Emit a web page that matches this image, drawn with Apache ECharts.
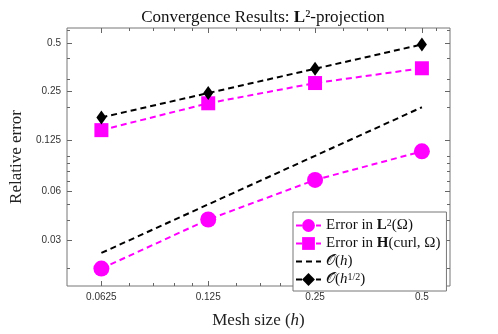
<!DOCTYPE html>
<html>
<head>
<meta charset="utf-8">
<script src="https://cdn.jsdelivr.net/npm/echarts@6/dist/echarts.min.js"></script>
<style>
  html, body { margin: 0; padding: 0; background: #fff; }
  #chart { width: 498px; height: 334px; }
</style>
</head>
<body>
<div id="chart"></div>
<script>
// data
var meshSizes = [0.0625, 0.125, 0.25, 0.5]
var errL2 = [0.0200, 0.0403, 0.0709, 0.1066]
var errHcurl = [0.1443, 0.2117, 0.2826, 0.349]
var refH = [0.025, 0.05, 0.1, 0.2]
var refHalf = [0.173, 0.245, 0.3465, 0.49]

var xTicks = [0.0625, 0.125, 0.25, 0.5]
var xMinorTicks = [0.075, 0.0875, 0.1, 0.1125, 0.15, 0.175, 0.2, 0.225, 0.3, 0.35, 0.4, 0.45, 0.55]
var yTicks = [0.03, 0.06, 0.125, 0.25, 0.5]
var yMinorTicks = [0.02, 0.04, 0.05, 0.07, 0.08, 0.09, 0.1, 0.2, 0.3, 0.4, 0.6]

var seriesNames = ['Error in L²(Ω)', 'Error in H(curl, Ω)', '𝒪(h)', '𝒪(h^{1/2})']
var legendRich = {
  'Error in L²(Ω)': '{n|Error in }{b|L}{s|2}{n|(Ω)}',
  'Error in H(curl, Ω)': '{n|Error in }{b|H}{n|(curl, Ω)}',
  '𝒪(h)': '{n|𝒪(}{i|h}{n|)}',
  '𝒪(h^{1/2})': '{n|𝒪(}{i|h}{s|1/2}{n|)}'
}

function pairs(ys) {
  return meshSizes.map(function (x, i) { return [x, ys[i]] })
}

var serif = 'Liberation Serif'
var xMin = 0.05, xMax = 0.6, yMin = 0.0156, yMax = 0.62

function xAx(pos, ticks, len, labels) {
  return {
    type: 'log', logBase: 2, min: xMin, max: xMax, position: pos,
    axisLine: { show: false },
    splitLine: { show: false },
    axisTick: { show: true, inside: true, length: len, customValues: ticks, lineStyle: { color: '#666', width: 1 } },
    axisLabel: labels ? {
      show: true, customValues: ticks, margin: 6, fontSize: 10, color: '#333', fontFamily: 'Liberation Sans',
      formatter: function (v) { return String(+v.toFixed(4)) }
    } : { show: false }
  }
}
function yAx(pos, ticks, len, labels) {
  return {
    type: 'log', logBase: 2, min: yMin, max: yMax, position: pos,
    axisLine: { show: false },
    splitLine: { show: false },
    axisTick: { show: true, inside: true, length: len, customValues: ticks, lineStyle: { color: '#666', width: 1 } },
    axisLabel: labels ? {
      show: true, customValues: ticks, margin: 6, fontSize: 10, color: '#333', fontFamily: 'Liberation Sans',
      formatter: function (v) { return String(+v.toFixed(4)) }
    } : { show: false }
  }
}

var xMain = xAx('bottom', xTicks, 5, true)
xMain.name = '{n|Mesh size (}{i|h}{n|)}'
xMain.nameLocation = 'middle'
xMain.nameGap = 26
xMain.nameTextStyle = {
  rich: {
    n: { fontFamily: serif, fontSize: 17, color: '#222' },
    i: { fontFamily: serif, fontSize: 17, fontStyle: 'italic', color: '#222' }
  }
}
var yMain = yAx('left', yTicks, 5, true)
yMain.name = 'Relative error'
yMain.nameLocation = 'middle'
yMain.nameGap = 42
yMain.nameTextStyle = { fontFamily: serif, fontSize: 17, color: '#222' }

var chart = echarts.init(document.getElementById('chart'))
chart.setOption({
  animation: false,
  backgroundColor: '#fff',
  title: {
    text: '{n|Convergence Results: }{b|L}{n|²-projection}',
    left: 258, top: 4, textAlign: 'center',
    textStyle: {
      fontWeight: 'normal',
      rich: {
        n: { fontFamily: serif, fontSize: 17, fontWeight: 'normal', color: '#111' },
        b: { fontFamily: serif, fontSize: 17, fontWeight: 'bold', color: '#111' }
      }
    }
  },
  grid: { left: 64, right: 48, top: 28, bottom: 38, show: true, borderColor: '#777', borderWidth: 1, backgroundColor: 'transparent' },
  legend: {
    data: [
      { name: seriesNames[0] },
      { name: seriesNames[1] },
      { name: seriesNames[2], itemStyle: { opacity: 0 } },
      { name: seriesNames[3] }
    ],
    orient: 'vertical',
    left: 293, top: 212,
    padding: [6, 6, 4, 2],
    itemGap: 3,
    itemWidth: 25, itemHeight: 16,
    backgroundColor: '#fff',
    borderColor: '#777', borderWidth: 1, borderRadius: 0,
    formatter: function (name) { return legendRich[name] },
    textStyle: {
      rich: {
        n: { fontFamily: serif, fontSize: 15, color: '#111' },
        b: { fontFamily: serif, fontSize: 15, fontWeight: 'bold', color: '#111' },
        i: { fontFamily: serif, fontSize: 15, fontStyle: 'italic', color: '#111' },
        s: { fontFamily: serif, fontSize: 10, color: '#111', verticalAlign: 'top' }
      }
    }
  },
  xAxis: [
    xMain,
    xAx('top', xTicks, 5, false),
    xAx('bottom', xMinorTicks, 3, false),
    xAx('top', xMinorTicks, 3, false)
  ],
  yAxis: [
    yMain,
    yAx('right', yTicks, 5, false),
    yAx('left', yMinorTicks, 3, false),
    yAx('right', yMinorTicks, 3, false)
  ],
  series: [
    {
      name: seriesNames[0], type: 'line', data: pairs(errL2),
      symbol: 'circle', symbolSize: 16,
      itemStyle: { color: '#ff00ff' },
      lineStyle: { color: '#ff00ff', width: 2, type: [6, 4] }
    },
    {
      name: seriesNames[1], type: 'line', data: pairs(errHcurl),
      symbol: 'rect', symbolSize: 14,
      itemStyle: { color: '#ff00ff' },
      lineStyle: { color: '#ff00ff', width: 2, type: [6, 4] }
    },
    {
      name: seriesNames[2], type: 'line', data: pairs(refH),
      symbol: 'none',
      itemStyle: { color: '#000' },
      lineStyle: { color: '#000', width: 2, type: [6, 4] }
    },
    {
      name: seriesNames[3], type: 'line', data: pairs(refHalf),
      symbol: 'diamond', symbolSize: [10, 14],
      itemStyle: { color: '#000' },
      lineStyle: { color: '#000', width: 2, type: [6, 4] }
    }
  ]
})
</script>
</body>
</html>
